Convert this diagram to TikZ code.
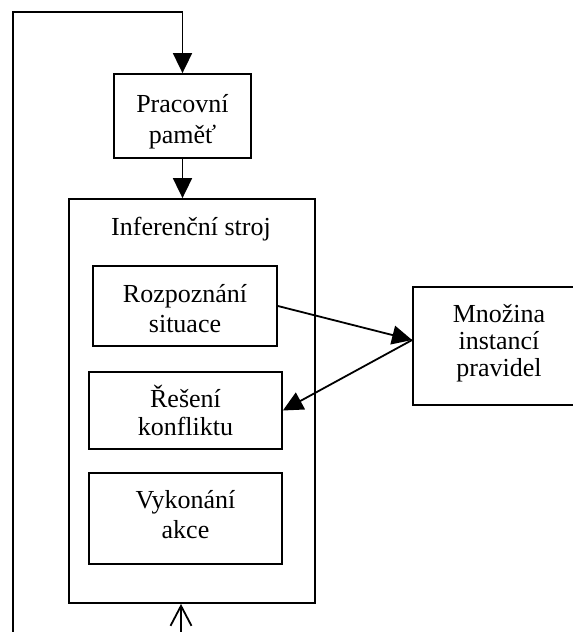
\documentclass[tikz,border=0pt]{standalone}
\usepackage{fontspec}
\setmainfont{Liberation Serif}
\usetikzlibrary{arrows.meta,calc}
\begin{document}
\begin{tikzpicture}[x=1pt,y=-1pt,
  line width=1.8pt,
  txt/.style={font=\fontsize{26}{30}\selectfont},
  box/.style={draw, line width=1.8pt, inner sep=0pt, align=center, txt, text depth=0pt},
  arr/.style={-{Triangle[length=20pt,width=19pt]}},
  openarr/.style={-{Straight Barb[length=20pt,width=21pt]}}
]
\useasboundingbox (0,0) rectangle (573,632);
\fill[white] (0,0) rectangle (573,632);

\node[box, minimum width=137pt, minimum height=84pt, text height=54pt, font=\fontsize{26}{31}\selectfont] (prac) at (182.5,116) {Pracovní\\paměť};
\node[box, minimum width=246pt, minimum height=404pt] (inf) at (192,401) {};
\node[txt, anchor=base] (inflab) at (191,235) {Inferenční stroj};
\node[box, minimum width=184pt, minimum height=80pt, text height=52pt] (rozp) at (185,306) {Rozpoznání\\situace};
\node[box, minimum width=193pt, minimum height=77pt, text height=49pt, font=\fontsize{26}{28}\selectfont] (res) at (185.5,410.5) {Řešení\\konfliktu};
\node[box, minimum width=193pt, minimum height=91pt, text height=39pt] (vyk) at (185.5,518.5) {Vykonání\\akce};
\node[box, minimum width=172pt, minimum height=118pt, text height=60pt, font=\fontsize{26}{27}\selectfont] (mn) at (499,346) {Množina\\instancí\\pravidel};

\coordinate (lb) at (13,632);
\coordinate (bb) at (181,632);
\coordinate (mnin) at ($(mn.north west)!0.45!(mn.south west)$);

\draw[arr] (lb) -- (13,12) -| (prac.north);
\draw[arr] (prac.south) -- (prac.south |- inf.north);
\draw[arr] (rozp.east) -- (mnin);
\draw[arr] (mnin) -- (res.east);
\draw[openarr] (bb) -- (bb |- inf.south);
\end{tikzpicture}
\end{document}
